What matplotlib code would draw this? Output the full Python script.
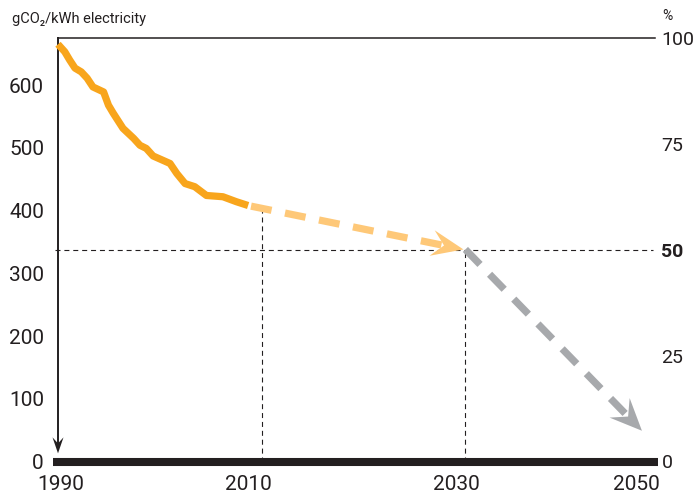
import matplotlib
matplotlib.use("Agg")
import matplotlib.pyplot as plt
import numpy as np

plt.rcParams["font.family"] = ["Roboto", "DejaVu Sans"]

# ---------------- data ----------------
hist_years = [1990.0, 1990.7, 1991.2, 1991.75, 1992.4, 1993.0, 1993.6, 1994.7,
              1995.2, 1995.7, 1996.7, 1997.8, 1998.45, 1999.1, 1999.8, 2001.55,
              2002.25, 2003.1, 2004.1, 2005.3, 2007.0, 2008.4, 2009.6]
hist_values = [665, 653, 640, 627, 621, 611, 597, 589,
               568, 555, 531, 515, 504, 499, 487, 475,
               459, 443, 438, 424, 422, 414, 408]

proj_years = [2009.9, 2031.8]       # light-orange projection
proj_values = [407, 338]
target_years = [2032.0, 2050.2]     # grey target path
target_values = [338, 49]

guide_years = [2011.0, 2032.0]      # vertical dashed guides
guide_tops = [400, 337.5]
half_level = 337.5                  # 50 % of 1990 level

y_ticks = [0, 100, 200, 300, 400, 500, 600]
y_labels = ["0", "100", "200", "300", "400", "500", "600"]
pct_ticks = [0, 25, 50, 75, 100]
pct_labels = ["0", "25", "50", "75", "100"]
x_tick_pos = [1990.3, 2009.6, 2031.1, 2049.6]
x_tick_labels = ["1990", "2010", "2030", "2050"]

# ---------------- styling ----------------
W, H = 696, 493
DARK = "#231f20"
ORANGE = "#f8a51c"
LIGHT = "#fec878"
GREY = "#a7a9ac"
PXYR = 9.7

fig = plt.figure(figsize=(W / 100, H / 100), dpi=100)
ax = fig.add_axes([53 / W, (H - 461.5) / H, (658 - 53) / W, (461.5 - 38) / H])
x0 = 1990 - 5 / PXYR
x1 = 1990 + 600 / PXYR
ax.set_xlim(x0, x1)
ax.set_ylim(0, 675)
for s in ax.spines.values():
    s.set_visible(False)


def px2data(p):
    return ax.transData.inverted().transform(p)


def head(tipx, tipy, fromx, fromy, L, Wd, color):
    p0 = ax.transData.transform((fromx, fromy))
    p1 = ax.transData.transform((tipx, tipy))
    d = p1 - p0
    u = d / np.hypot(*d)
    n = np.array([-u[1], u[0]])
    pts = [p1,
           p1 - u * L + n * Wd / 2,
           p1 - u * L * 0.62,
           p1 - u * L - n * Wd / 2]
    dpts = np.array([px2data(p) for p in pts])
    ax.fill(dpts[:, 0], dpts[:, 1], color=color, lw=0, clip_on=False, zorder=5)
    return px2data(p1 - u * L * 0.62)


# bottom bar
ax.plot([x0, x1], [0, 0], color=DARK, lw=5.8, solid_capstyle="butt",
        clip_on=False, zorder=4)
# top line
ax.plot([1990, 1990 + 597 / PXYR], [675, 675], color=DARK, lw=1.1,
        clip_on=False, zorder=3)
# left axis with arrow
b = head(1990, 13, 1990, 675, 16, 11, DARK)
ax.plot([1990, 1990], [675, b[1]], color=DARK, lw=1.4, clip_on=False, zorder=3)

# dashed guides
ax.plot([1990 - 3 / PXYR, 1990 + 595 / PXYR], [half_level, half_level],
        color=DARK, lw=0.8, dashes=(4.5, 3.5), clip_on=False, zorder=2)
for gx, gt in zip(guide_years, guide_tops):
    ax.plot([gx, gx], [0, gt], color=DARK, lw=0.8, dashes=(4.5, 3.5), zorder=2)

# historic curve
ax.plot(hist_years, hist_values, color=ORANGE, lw=5.2, solid_capstyle="butt",
        solid_joinstyle="round", zorder=6, clip_on=False)

# projection arrow
b = head(proj_years[1], proj_values[1], proj_years[0], proj_values[0], 32, 26, LIGHT)
ax.plot([proj_years[0], b[0]], [proj_values[0], b[1]], color=LIGHT, lw=5.2,
        dashes=(2.9, 1.9), dash_capstyle="butt", zorder=5)

# target arrow
b = head(target_years[1], target_values[1], target_years[0], target_values[0], 32, 28, GREY)
ax.plot([target_years[0], b[0]], [target_values[0], b[1]], color=GREY, lw=5.2,
        dashes=(2.9, 1.9), dash_capstyle="butt", zorder=5)

# ticks
ax.set_yticks(y_ticks, y_labels)
ax.set_xticks(x_tick_pos, x_tick_labels)
ax.tick_params(axis="both", length=0, labelsize=15, colors=DARK)
ax.tick_params(axis="y", pad=6.5)
ax.tick_params(axis="x", pad=10)

ax2 = ax.twinx()
ax2.set_ylim(0, 100)
for s in ax2.spines.values():
    s.set_visible(False)
ax2.set_yticks(pct_ticks, pct_labels)
ax2.tick_params(axis="y", length=0, labelsize=14, pad=2.5, colors=DARK)
for t in ax2.get_yticklabels():
    if t.get_text() == "50":
        t.set_fontweight("bold")

fig.text(12 / W, 1 - 18.5 / H, "gCO\u2082/kWh electricity", fontsize=10.5,
         va="center", ha="left", color=DARK)
fig.text(662 / W, 1 - 16 / H, "%", fontsize=10, va="center", ha="left", color=DARK)

fig.savefig("out.png", dpi=100)
